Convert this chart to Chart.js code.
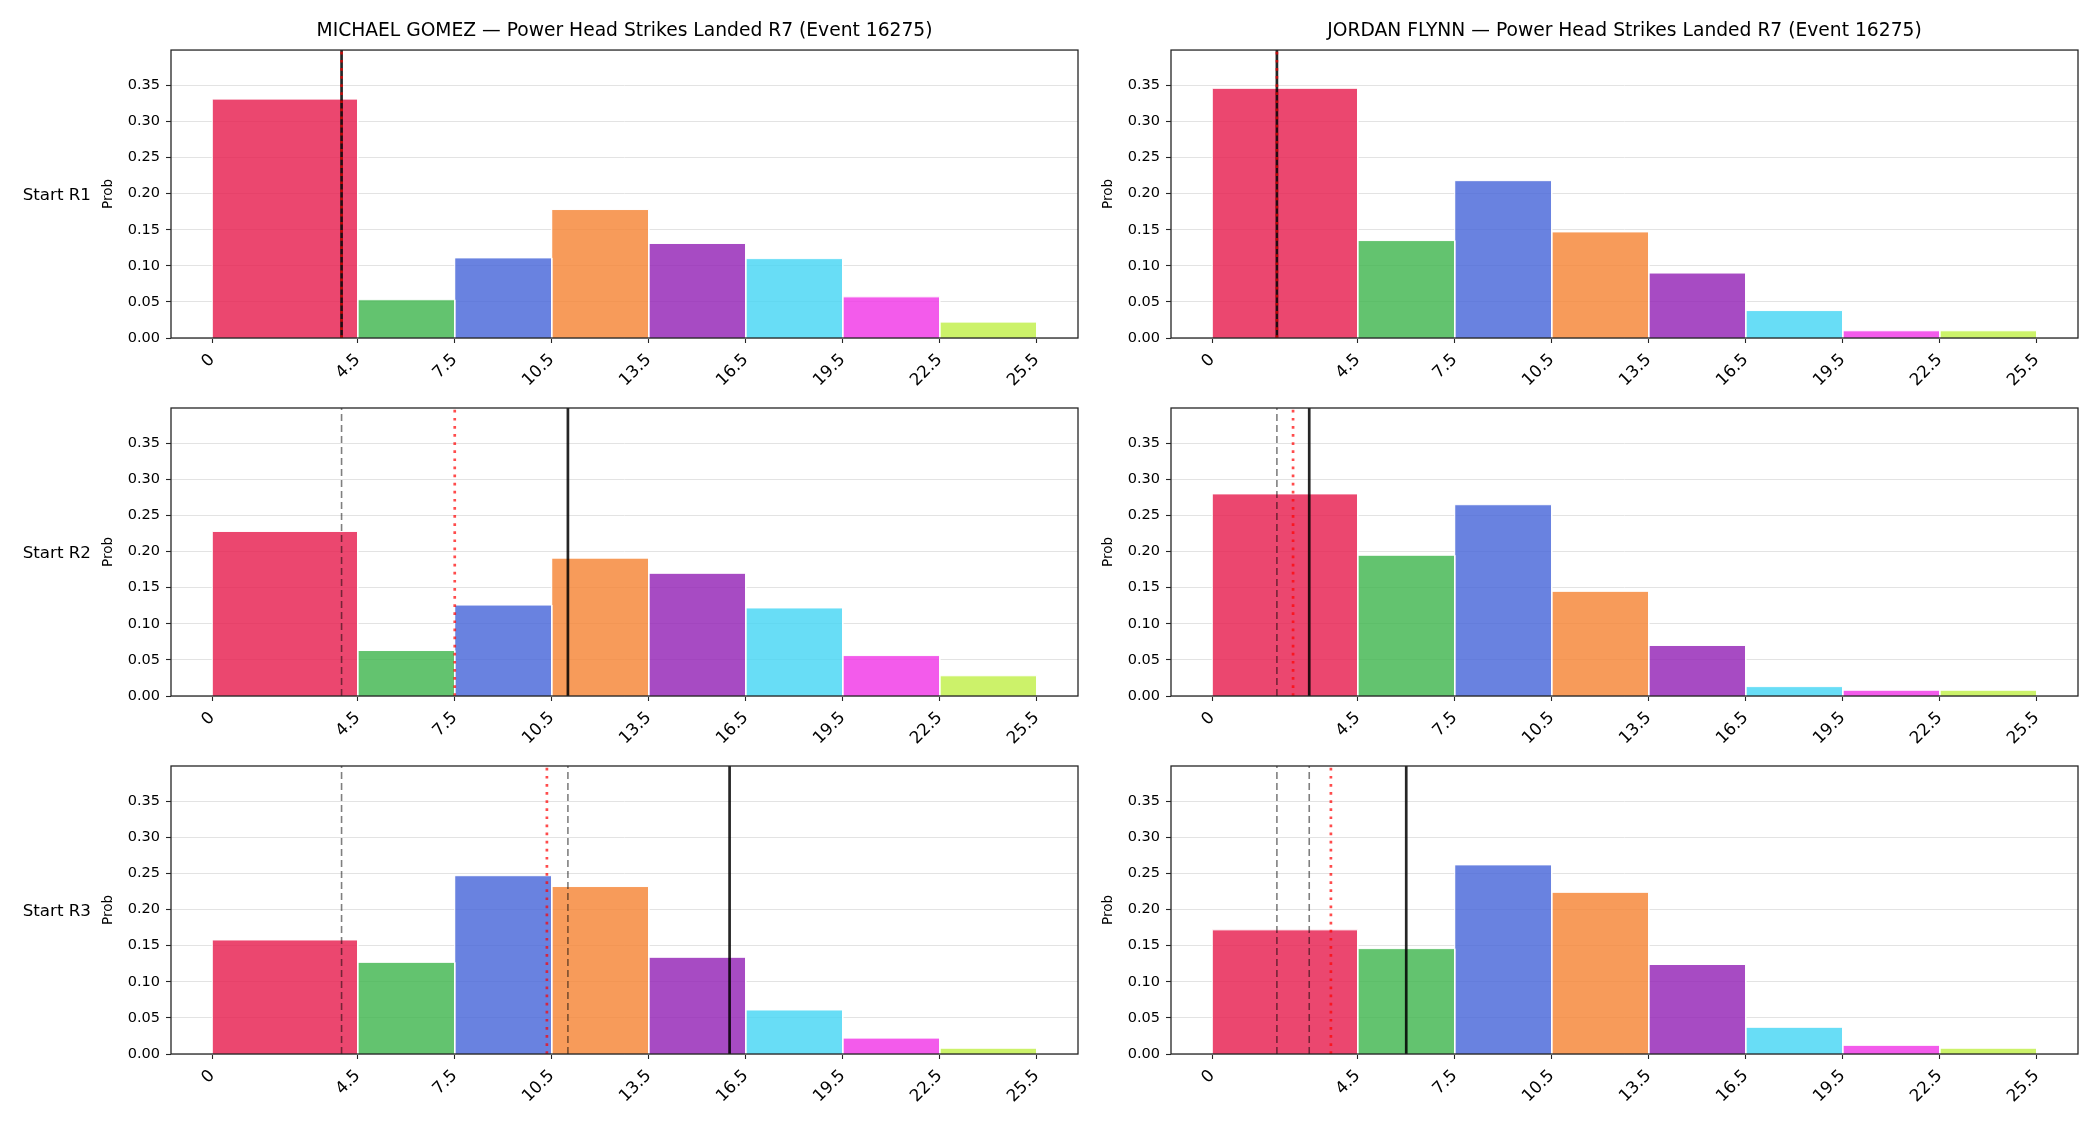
<!DOCTYPE html>
<html>
<head>
<meta charset="utf-8">
<script src="https://cdn.jsdelivr.net/npm/chart.js@4.4.0/dist/chart.umd.min.js"></script>
<style>
  html, body { margin: 0; padding: 0; background: #fff; overflow: hidden; }
  #fig { position: relative; width: 2100px; height: 1125px; overflow: hidden; background: #fff; }
  #fig canvas { position: absolute; }
  .rowlab { position: absolute; left: 0; width: 91px; text-align: right; font-family: 'DejaVu Sans', sans-serif; font-size: 16.7px; line-height: 20px; color: #000; }
</style>
</head>
<body>
<div id="fig"></div>
<script>
const binEdges = [0, 4.5, 7.5, 10.5, 13.5, 16.5, 19.5, 22.5, 25.5];
const binColors = ['#e6194b', '#3cb44b', '#4363d8', '#f58231', '#911eb4', '#42d4f4', '#f032e6', '#bfef45'];
const probTicks = [0, 0.05, 0.10, 0.15, 0.20, 0.25, 0.30, 0.35];
const yTop = 0.399;
const startRounds = ['Start R1', 'Start R2', 'Start R3'];

const gomezTitle = 'MICHAEL GOMEZ — Power Head Strikes Landed R7 (Event 16275)';
const gomezR1 = [0.331, 0.053, 0.111, 0.178, 0.131, 0.110, 0.057, 0.022];
const gomezR2 = [0.228, 0.063, 0.126, 0.191, 0.170, 0.122, 0.056, 0.028];
const gomezR3 = [0.158, 0.127, 0.247, 0.232, 0.134, 0.061, 0.022, 0.008];
const gomezSolid = [4.0, 11.0, 16.0];
const gomezDotted = [4.0, 7.5, 10.35];
const gomezDashed = [[], [4.0], [4.0, 11.0]];

const flynnTitle = 'JORDAN FLYNN — Power Head Strikes Landed R7 (Event 16275)';
const flynnR1 = [0.346, 0.135, 0.218, 0.147, 0.090, 0.038, 0.010, 0.010];
const flynnR2 = [0.280, 0.195, 0.265, 0.145, 0.070, 0.013, 0.008, 0.008];
const flynnR3 = [0.172, 0.146, 0.262, 0.224, 0.124, 0.037, 0.012, 0.008];
const flynnSolid = [2.0, 3.0, 6.0];
const flynnDotted = [2.0, 2.5, 3.67];
const flynnDashed = [[], [2.0], [2.0, 3.0]];

Chart.defaults.font.family = "'DejaVu Sans', sans-serif";
Chart.defaults.color = '#000';

const fig = document.getElementById('fig');
const colLeft = [171, 1171];
const rowTop = [50, 408, 766];
const plotW = 907;
const plotH = 288;

function rgba(hex, a) {
  const n = parseInt(hex.slice(1), 16);
  return `rgba(${(n >> 16) & 255},${(n >> 8) & 255},${n & 255},${a})`;
}

function vline(x, color, width, dash, order) {
  return {
    data: [{x: x, y: 0}, {x: x, y: yTop}],
    borderColor: color,
    borderWidth: width,
    borderDash: dash,
    pointRadius: 0,
    fill: false,
    order: order
  };
}

// draws the box around the axes
const frame = {
  id: 'frame',
  afterDraw(chart) {
    const {ctx, chartArea: a} = chart;
    ctx.save();
    ctx.strokeStyle = '#262626';
    ctx.lineWidth = 1.3;
    ctx.strokeRect(a.left, a.top, a.width, a.height);
    ctx.restore();
  }
};

function addPanel(col, row, heights, solidX, dottedX, dashedX, title) {
  const canvas = document.createElement('canvas');
  canvas.width = 170 + plotW + 170;
  canvas.height = 50 + plotH + 62;
  canvas.style.left = (colLeft[col] - 170) + 'px';
  canvas.style.top = (rowTop[row] - 50) + 'px';
  fig.appendChild(canvas);

  const datasets = [];
  heights.forEach((h, i) => {
    const x0 = binEdges[i];
    const x1 = binEdges[i + 1];
    datasets.push({
      data: [{x: x0, y: 0}, {x: x0, y: h}, {x: x1, y: h}, {x: x1, y: 0}],
      backgroundColor: rgba(binColors[i], 0.8),
      borderColor: '#ffffff',
      borderWidth: 1,
      borderJoinStyle: 'miter',
      fill: 'origin',
      pointRadius: 0,
      tension: 0,
      order: 3
    });
  });
  dashedX.forEach(x => datasets.push(vline(x, 'rgba(0,0,0,0.5)', 1.6, [7, 4], 2)));
  datasets.push(vline(solidX, 'rgba(0,0,0,0.85)', 2.7, [], 1));
  datasets.push(vline(dottedX, 'rgba(255,0,0,0.7)', 2.7, [2.7, 5.4], 0));

  new Chart(canvas, {
    type: 'line',
    data: {datasets: datasets},
    plugins: [frame],
    options: {
      responsive: false,
      animation: false,
      devicePixelRatio: 1,
      events: [],
      layout: {padding: {left: 96, right: 170, top: title ? 0 : 50, bottom: 0}},
      plugins: {
        legend: {display: false},
        tooltip: {enabled: false},
        title: {
          display: !!title,
          text: title,
          fullSize: false,
          color: '#000',
          font: {size: 18.7, weight: 'normal'},
          padding: {top: 20, bottom: 7.6}
        }
      },
      scales: {
        x: {
          type: 'linear',
          min: -1.275,
          max: 26.775,
          afterBuildTicks: s => { s.ticks = binEdges.map(v => ({value: v})); },
          afterFit: s => { s.height = 62; },
          border: {display: false},
          grid: {drawOnChartArea: false, tickLength: 5, tickColor: '#262626', tickWidth: 1.1},
          ticks: {
            autoSkip: false,
            minRotation: 45,
            maxRotation: 45,
            padding: 7,
            color: '#000',
            font: {size: 16.7},
            callback: v => String(v)
          }
        },
        y: {
          type: 'linear',
          min: 0,
          max: yTop,
          afterBuildTicks: s => { s.ticks = probTicks.map(v => ({value: v})); },
          afterFit: s => { s.width = 74; },
          border: {display: false},
          grid: {color: '#e3e3e3', lineWidth: 1, tickLength: 5, tickColor: '#262626', tickWidth: 1.1},
          ticks: {color: '#000', padding: 6, font: {size: 14.5}, callback: v => v.toFixed(2)},
          title: {display: true, text: 'Prob', color: '#000', font: {size: 13.5}, padding: {top: 3.5, bottom: 4}}
        }
      }
    }
  });
}

const gomezRows = [gomezR1, gomezR2, gomezR3];
const flynnRows = [flynnR1, flynnR2, flynnR3];

for (let r = 0; r < 3; r++) {
  addPanel(0, r, gomezRows[r], gomezSolid[r], gomezDotted[r], gomezDashed[r], r === 0 ? gomezTitle : '');
  addPanel(1, r, flynnRows[r], flynnSolid[r], flynnDotted[r], flynnDashed[r], r === 0 ? flynnTitle : '');

  const lab = document.createElement('div');
  lab.className = 'rowlab';
  lab.textContent = startRounds[r];
  lab.style.top = (rowTop[r] + plotH / 2 - 10) + 'px';
  fig.appendChild(lab);
}
</script>
</body>
</html>
